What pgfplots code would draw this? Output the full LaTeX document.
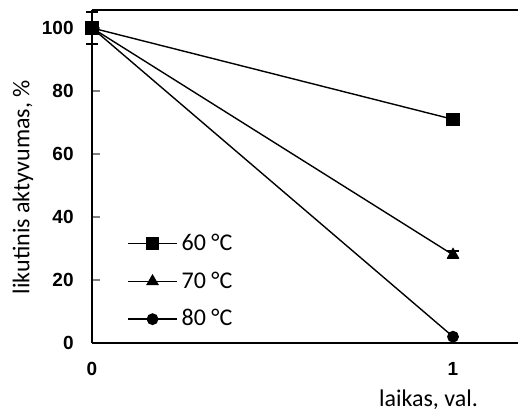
\documentclass[border=0pt]{standalone}
\usepackage{fontspec}
\setmainfont{Carlito}
\newfontfamily\arialf{Liberation Sans}
\usepackage{pgfplots}
\pgfplotsset{compat=1.18}
\begin{document}
\begin{tikzpicture}
\useasboundingbox (-46pt,-37pt) rectangle (213pt,171.5pt);
\begin{axis}[
  scale only axis, width=213pt, height=166.5pt,
  at={(0,0)}, anchor=south west,
  xmin=0, xmax=1.18, ymin=0, ymax=105.7,
  axis x line=box, axis y line=left,
  axis line style={-, line width=1pt},
  xtick={0,1}, ytick={0,20,40,60,80,100},
  xtick style={draw=none},
  ytick style={line width=1pt},
  tick align=inside, ytick pos=left,
  major tick length=4pt,
  /pgf/number format/assume math mode=true,
  ticklabel style={font=\arialf\bfseries\fontsize{9.5}{11}\selectfont, inner sep=0pt},
  yticklabel style={xshift=-9pt},
  xticklabel style={yshift=-9.5pt},
  xlabel={laikas, val.},
  ylabel={likutinis aktyvumas, \%},
  label style={font=\fontsize{12}{14}\selectfont},
  xlabel style={at={(axis description cs:0.79,-0.171)}, anchor=center},
  ylabel style={at={(axis description cs:-0.162,0.468)}, anchor=center},
  legend style={draw=none, fill=none, at={(axis description cs:0.082,0.341)}, anchor=north west,
    inner sep=0pt, row sep=5.2pt, font=\fontsize{12}{14}\selectfont, cells={anchor=west}},
  legend image code/.code={\draw[mark repeat=2,mark phase=2] plot coordinates {(0pt,0pt) (12.25pt,0pt) (24.5pt,0pt)};},
  clip=false,
]
\addplot[black, line width=0.7pt, mark=square*, mark size=3pt,
  error bars/.cd, y dir=both, y explicit, error bar style={line width=0.8pt}, error mark options={rotate=90, mark size=3pt, line width=0.8pt}]
  coordinates {(0,100) +- (0,5) (1,71) +- (0,0)};
\addlegendentry{60 °C}
\addplot[black, line width=0.7pt, mark=triangle*, mark size=3pt,
  error bars/.cd, y dir=both, y explicit, error bar style={line width=0.8pt}, error mark options={rotate=90, mark size=3pt, line width=0.8pt}]
  coordinates {(0,100) +- (0,0) (1,28) +- (0,1.2)};
\addlegendentry{70 °C}
\addplot[black, line width=0.7pt, mark=*, mark size=2.6pt]
  coordinates {(0,100) (1,2)};
\addlegendentry{80 °C}
\end{axis}
\end{tikzpicture}
\end{document}
